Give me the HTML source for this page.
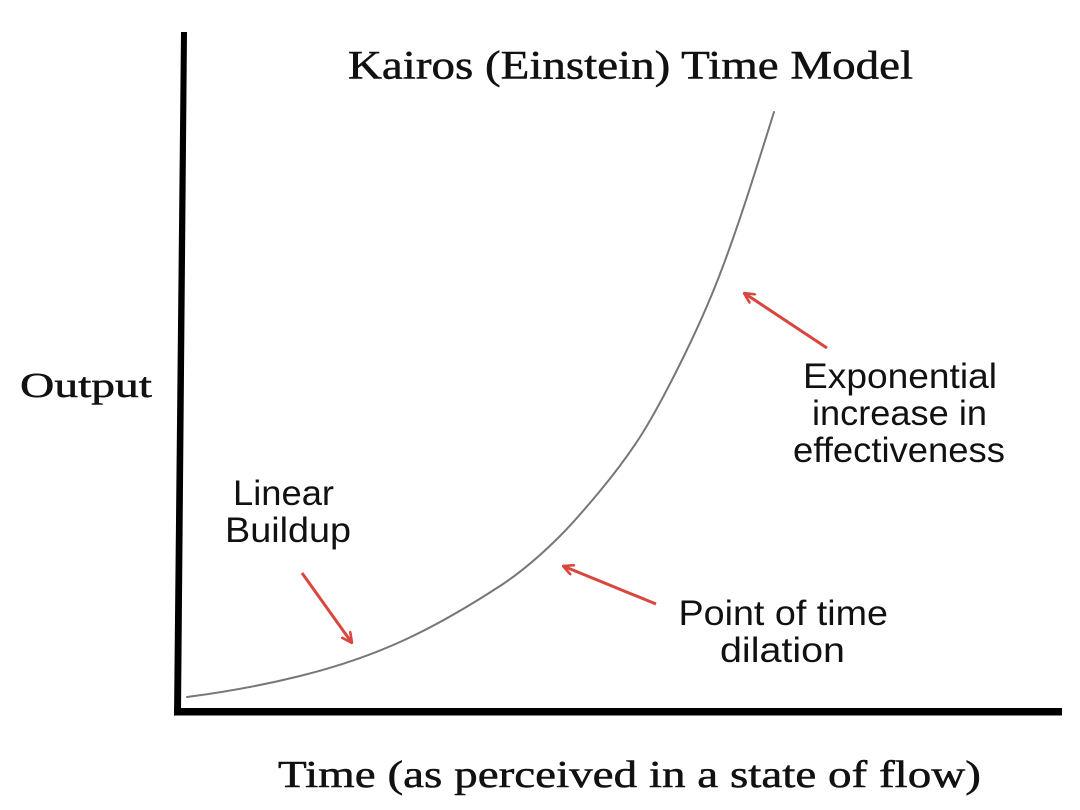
<!DOCTYPE html>
<html>
<head>
<meta charset="utf-8">
<style>
  html, body { margin: 0; padding: 0; background: #ffffff; }
  svg { display: block; }
  .serif { font-family: "Liberation Serif", serif; fill: #111; stroke: #111; stroke-width: 0.5; }
  .sans { font-family: "Liberation Sans", sans-serif; fill: #111; }
</style>
</head>
<body>
<svg width="1080" height="810" viewBox="0 0 1080 810" xmlns="http://www.w3.org/2000/svg">
  <defs>
    <marker id="ah" viewBox="0 0 12 12" refX="11" refY="6" markerWidth="12" markerHeight="12" markerUnits="userSpaceOnUse" orient="auto">
      <path d="M1,1 L11,6 L1,11" fill="none" stroke="#d9463e" stroke-width="2.6" stroke-linecap="round" stroke-linejoin="round"/>
    </marker>
  </defs>
  <rect width="1080" height="810" fill="#ffffff"/>

  <!-- Axes -->
  <polygon points="181,32 187,32 181,712 174,716" fill="#000"/>
  <rect x="174" y="708" width="888" height="7.5" fill="#000"/>

  <!-- Curve -->
  <path d="M187,697 C224.7,692.1 262.3,685.4 300,676 C333.3,667.7 366.7,657 400,642 C433.3,627 466.7,607.7 500,586 C520,573 540,556 560,536 C573.3,522.7 586.7,507 600,491 C613.3,475 626.7,457.7 640,437 C653.3,416.3 666.7,390.7 680,364 C693.3,337.3 706.7,308.7 720,274 C738,227.2 756,169.6 774,112"
        fill="none" stroke="#777" stroke-width="2" stroke-linecap="round"/>

  <!-- Arrows -->
  <line x1="302" y1="573" x2="352" y2="643" stroke="#d9463e" stroke-width="3" marker-end="url(#ah)"/>
  <line x1="656" y1="604" x2="563" y2="566" stroke="#d9463e" stroke-width="3" marker-end="url(#ah)"/>
  <line x1="827" y1="348" x2="744" y2="293" stroke="#d9463e" stroke-width="3" marker-end="url(#ah)"/>

  <!-- Title -->
  <text class="serif" x="348" y="78.5" font-size="40" textLength="565" lengthAdjust="spacingAndGlyphs">Kairos (Einstein) Time Model</text>

  <!-- Axis labels -->
  <text class="serif" x="20" y="397" font-size="35" textLength="132" lengthAdjust="spacingAndGlyphs">Output</text>
  <text class="serif" x="278" y="787" font-size="38" textLength="703" lengthAdjust="spacingAndGlyphs">Time (as perceived in a state of flow)</text>

  <!-- Annotations -->
  <text class="sans" x="233" y="505" font-size="35.5" textLength="101" lengthAdjust="spacingAndGlyphs">Linear</text>
  <text class="sans" x="225" y="542" font-size="35.5" textLength="126" lengthAdjust="spacingAndGlyphs">Buildup</text>

  <text class="sans" x="678.5" y="625" font-size="35.5" textLength="209.5" lengthAdjust="spacingAndGlyphs">Point of time</text>
  <text class="sans" x="720" y="662" font-size="35.5" textLength="125" lengthAdjust="spacingAndGlyphs">dilation</text>

  <text class="sans" x="803" y="388" font-size="35.5" textLength="194" lengthAdjust="spacingAndGlyphs">Exponential</text>
  <text class="sans" x="812" y="425" font-size="35.5" textLength="175" lengthAdjust="spacingAndGlyphs">increase in</text>
  <text class="sans" x="793" y="462" font-size="35.5" textLength="212" lengthAdjust="spacingAndGlyphs">effectiveness</text>
</svg>
</body>
</html>
